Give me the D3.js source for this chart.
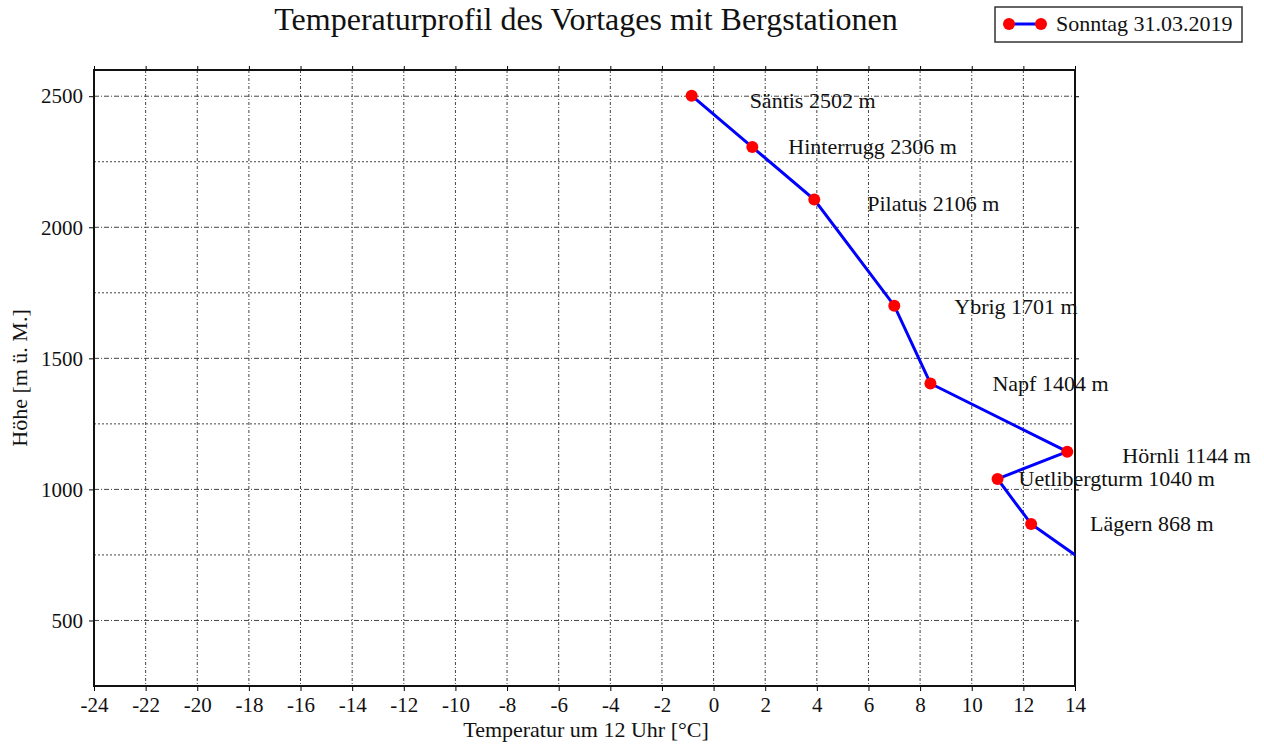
<!DOCTYPE html>
<html><head><meta charset="utf-8">
<script src="https://cdn.jsdelivr.net/npm/d3@7"></script>
<style>body{margin:0;background:#fff}svg{display:block}text{font-family:"Liberation Serif","DejaVu Serif",serif;fill:#111}</style>
</head><body><svg id="c" width="1264" height="745"></svg>
<script>
const stations = ["Säntis 2502 m","Hinterrugg 2306 m","Pilatus 2106 m","Ybrig 1701 m","Napf 1404 m","Hörnli 1144 m","Uetlibergturm 1040 m","Lägern 868 m",""];
const altitudes = [2502,2306,2106,1701,1404,1144,1040,868,556];
const temps = [-0.85,1.5,3.9,7.0,8.4,13.7,11.0,12.3,16.8];
const labelDx = [58,36,53,60,62,55,21,59,58];
const labelDy = [12,7,12,8,7,11,7,7,7];
const xTicks = d3.range(-24,15,2);
const yTicks = [500,1000,1500,2000,2500];
const yGrid = d3.range(500,2501,250);
const title = "Temperaturprofil des Vortages mit Bergstationen";
const seriesName = "Sonntag 31.03.2019";
const xLabel = "Temperatur um 12 Uhr [°C]";
const yLabel = "Höhe [m ü. M.]";

const svg = d3.select("#c");
const L=94,R=1075,T=70,B=686;
const x = d3.scaleLinear().domain([-24,14]).range([L,R]);
const y = d3.scaleLinear().domain([250,2600]).range([B,T]);

svg.append("defs").append("clipPath").attr("id","clip").append("rect").attr("x",L).attr("y",T).attr("width",R-L).attr("height",B-T);

// grid
const g = svg.append("g");
g.selectAll(".vg").data(xTicks.filter(d=>d>-24&&d<14)).join("line")
 .attr("x1",d=>x(d)).attr("x2",d=>x(d)).attr("y1",T).attr("y2",B)
 .attr("stroke","#444").attr("stroke-width",1).attr("stroke-dasharray","3,2,1,2");
g.selectAll(".hg").data(yGrid).join("line")
 .attr("x1",L).attr("x2",R).attr("y1",d=>y(d)).attr("y2",d=>y(d))
 .attr("stroke","#444").attr("stroke-width",1).attr("stroke-dasharray",d=>d%500===0?"5,2,1,2":"2,2");

const fmt = d=>String(d);
// axes
svg.append("g").attr("transform",`translate(0,${B})`)
 .call(d3.axisBottom(x).tickValues(xTicks).tickSize(5).tickSizeOuter(0).tickPadding(6).tickFormat(fmt))
 .call(a=>a.select(".domain").remove())
 .call(a=>a.selectAll("text").attr("font-size",21).attr("font-family","Liberation Serif").attr("fill","#111"));
svg.append("g").attr("transform",`translate(0,${T})`)
 .call(d3.axisTop(x).tickValues(xTicks).tickSize(4).tickFormat(""))
 .call(a=>a.select(".domain").remove());
svg.append("g").attr("transform",`translate(${L},0)`)
 .call(d3.axisLeft(y).tickValues(yTicks).tickSize(5).tickPadding(6).tickFormat(fmt))
 .call(a=>a.select(".domain").remove())
 .call(a=>a.selectAll("text").attr("font-size",21).attr("font-family","Liberation Serif").attr("fill","#111"));
svg.append("g").attr("transform",`translate(${R},0)`)
 .call(d3.axisRight(y).tickValues(yTicks).tickSize(4).tickFormat(""))
 .call(a=>a.select(".domain").remove());

// frame
svg.append("rect").attr("x",L).attr("y",T).attr("width",R-L).attr("height",B-T)
 .attr("fill","none").attr("stroke","#111").attr("stroke-width",2);

// line & markers
const pts = temps.map((t,i)=>({t,a:altitudes[i],name:stations[i],dx:labelDx[i],dy:labelDy[i]}));
const plot = svg.append("g").attr("clip-path","url(#clip)");
plot.append("path").datum(pts)
 .attr("d",d3.line().x(d=>x(d.t)).y(d=>y(d.a)))
 .attr("fill","none").attr("stroke","#0000ff").attr("stroke-width",3);
plot.selectAll("circle").data(pts).join("circle")
 .attr("cx",d=>x(d.t)).attr("cy",d=>y(d.a)).attr("r",6).attr("fill","#ff0000");

// labels
svg.selectAll(".lab").data(pts.filter(d=>d.name)).join("text")
 .attr("x",d=>x(d.t)+d.dx).attr("y",d=>y(d.a)+d.dy)
 .attr("font-size",22).text(d=>d.name);

// titles
svg.append("text").attr("x",586).attr("y",30).attr("text-anchor","middle").attr("font-size",32).text(title);
svg.append("text").attr("x",586).attr("y",737).attr("text-anchor","middle").attr("font-size",22).text(xLabel);
svg.append("text").attr("transform","translate(27,378) rotate(-90)").attr("text-anchor","middle").attr("font-size",22).text(yLabel);

// legend
const lg = svg.append("g");
lg.append("rect").attr("x",995).attr("y",7).attr("width",247).attr("height",35).attr("fill","#fff").attr("stroke","#333").attr("stroke-width",1.5);
lg.append("line").attr("x1",1009).attr("x2",1041).attr("y1",24).attr("y2",24).attr("stroke","#0000ff").attr("stroke-width",3);
lg.selectAll("circle").data([1009,1041]).join("circle").attr("cx",d=>d).attr("cy",24).attr("r",6).attr("fill","#ff0000");
lg.append("text").attr("x",1056).attr("y",31).attr("font-size",22).text(seriesName);
</script></body></html>
